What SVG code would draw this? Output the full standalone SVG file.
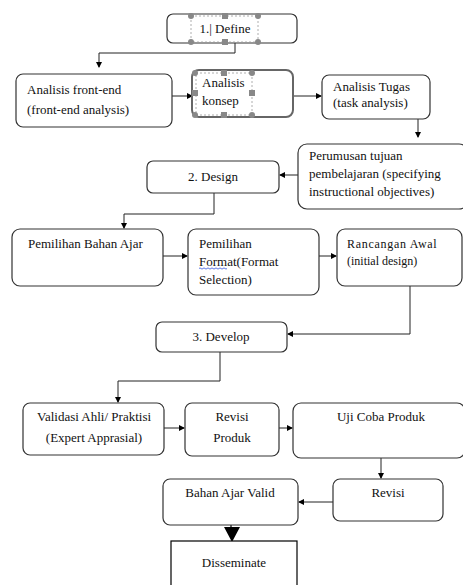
<svg xmlns="http://www.w3.org/2000/svg" width="463" height="585" viewBox="0 0 463 585">
<defs>
<marker id="ah" markerWidth="6" markerHeight="6" refX="5" refY="3" orient="auto" markerUnits="userSpaceOnUse">
<path d="M0,0 L6,3 L0,6 Z" fill="#000"/>
</marker>
<style>
.box{fill:#fff;stroke:#333;stroke-width:1.2}
.sq{fill:#fff;stroke:#000;stroke-width:1.2}
.sel{fill:none;stroke:#999;stroke-width:0.8;stroke-dasharray:2,2}
.hc{fill:#888}
text{font-family:"Liberation Serif","Times New Roman",serif;fill:#111}
.s13{font-size:13px}
.s12{font-size:12px}
.c{text-anchor:middle}
.ln{fill:none;stroke:#222;stroke-width:1}
</style>
</defs>
<rect width="463" height="585" fill="#fff"/>

<g id="connectors">
<polyline class="ln" points="235,43 235,53 99,53 99,67" marker-end="url(#ah)"/>
<line class="ln" x1="172" y1="96" x2="192" y2="96" marker-end="url(#ah)"/>
<line class="ln" x1="293" y1="96" x2="321" y2="96" marker-end="url(#ah)"/>
<line class="ln" x1="418" y1="119" x2="418" y2="137" marker-end="url(#ah)"/>
<line class="ln" x1="298" y1="175" x2="280" y2="175" marker-end="url(#ah)"/>
<polyline class="ln" points="214,193 214,214 124,214 124,228" marker-end="url(#ah)"/>
<line class="ln" x1="163" y1="256" x2="187" y2="256" marker-end="url(#ah)"/>
<line class="ln" x1="319" y1="256" x2="336" y2="256" marker-end="url(#ah)"/>
<polyline class="ln" points="410,286 410,334 288,334" marker-end="url(#ah)"/>
<polyline class="ln" points="220,352 220,381 118,381 118,402" marker-end="url(#ah)"/>
<line class="ln" x1="164" y1="428" x2="184" y2="428" marker-end="url(#ah)"/>
<line class="ln" x1="279" y1="428" x2="292" y2="428" marker-end="url(#ah)"/>
<line class="ln" x1="381" y1="458" x2="381" y2="478" marker-end="url(#ah)"/>
<line class="ln" x1="333" y1="502" x2="299" y2="502" marker-end="url(#ah)"/>
<line x1="231" y1="518" x2="231" y2="528" stroke="#000" stroke-width="1.2"/>
<polygon points="224,527 240,527 232,542" fill="#000"/>
</g>

<g id="define">
<rect class="box" x="167" y="14" width="130" height="29" rx="6"/>
<rect class="sel" x="191" y="16" width="67" height="26"/>
<circle class="hc" cx="191" cy="16" r="3"/><circle class="hc" cx="258" cy="16" r="3"/>
<circle class="hc" cx="191" cy="42" r="3"/><circle class="hc" cx="258" cy="42" r="3"/>
<rect class="hc" x="222" y="13" width="6" height="6"/><rect class="hc" x="222" y="39" width="6" height="6"/>
<text class="s13 c" x="225" y="33">1.| Define</text>
</g>

<g id="front-end">
<rect class="box" x="16" y="74" width="156" height="53" rx="7"/>
<text class="s13" x="27" y="94">Analisis front-end</text>
<text class="s13" x="27" y="114">(front-end analysis)</text>
</g>

<g id="konsep">
<rect x="192" y="70" width="101" height="47" rx="7" fill="#fff" stroke="#666" stroke-width="2"/>
<rect class="sel" x="196" y="73" width="56" height="42"/>
<circle class="hc" cx="195" cy="73" r="3"/><circle class="hc" cx="252" cy="73" r="3"/>
<circle class="hc" cx="195" cy="115" r="3"/><circle class="hc" cx="252" cy="115" r="3"/>
<rect class="hc" x="221" y="70" width="6" height="6"/><rect class="hc" x="221" y="112" width="6" height="6"/>
<rect class="hc" x="192" y="90" width="6" height="6"/><rect class="hc" x="249" y="90" width="6" height="6"/>
<text class="s13" x="202" y="87">Analisis</text>
<text class="s13" x="202" y="105">konsep</text>
</g>

<g id="tugas">
<rect class="box" x="322" y="75" width="108" height="44" rx="7"/>
<text class="s13" x="333" y="91">Analisis Tugas</text>
<text class="s13" x="333" y="107">(task analysis)</text>
</g>

<g id="perumusan">
<rect class="box" x="298" y="144" width="170" height="65" rx="9"/>
<text class="s13" x="309" y="160">Perumusan tujuan</text>
<text class="s13" x="309" y="178">pembelajaran (specifying</text>
<text class="s13" x="309" y="196">instructional  objectives)</text>
</g>

<g id="design">
<rect class="box" x="147" y="161" width="132" height="32" rx="6"/>
<text class="s13 c" x="213" y="181">2. Design</text>
</g>

<g id="bahan">
<rect class="box" x="12" y="229" width="151" height="57" rx="8"/>
<text class="s13" x="28" y="248">Pemilihan Bahan Ajar</text>
</g>

<g id="format">
<rect class="box" x="188" y="229" width="131" height="66" rx="8"/>
<text class="s13" x="199" y="248">Pemilihan</text>
<text class="s13" x="199" y="266">Format(Format</text>
<path d="M199,268.5 q1,-1.2 2,0 t2,0 t2,0 t2,0 t2,0 t2,0 t2,0 t2,0 t2,0 t2,0 t2,0 t2,0 t2,0 t2,0" fill="none" stroke="#3355dd" stroke-width="0.8"/>
<text class="s13" x="199" y="284">Selection)</text>
</g>

<g id="rancangan">
<rect class="box" x="337" y="229" width="125" height="57" rx="8"/>
<text class="s12" x="347" y="248" letter-spacing="0.7">Rancangan Awal</text>
<text class="s12" x="347" y="265">(initial design)</text>
</g>

<g id="develop">
<rect class="box" x="156" y="322" width="131" height="30" rx="6"/>
<text class="s13 c" x="221" y="341">3. Develop</text>
</g>

<g id="validasi">
<rect class="box" x="23" y="403" width="141" height="52" rx="7"/>
<text class="s13 c" x="94" y="421">Validasi Ahli/ Praktisi</text>
<text class="s13 c" x="94" y="442">(Expert Apprasial)</text>
</g>

<g id="revisi-produk">
<rect class="box" x="185" y="403" width="94" height="53" rx="7"/>
<text class="s13 c" x="232" y="421">Revisi</text>
<text class="s13 c" x="232" y="442">Produk</text>
</g>

<g id="uji">
<rect class="box" x="293" y="403" width="172" height="55" rx="8"/>
<text class="s13 c" x="381" y="421">Uji Coba Produk</text>
</g>

<g id="revisi">
<rect class="box" x="333" y="479" width="110" height="42" rx="7"/>
<text class="s13 c" x="388" y="497">Revisi</text>
</g>

<g id="valid">
<rect class="box" x="163" y="479" width="135" height="46" rx="7"/>
<text class="s13 c" x="230" y="497">Bahan Ajar Valid</text>
</g>

<g id="disseminate">
<rect class="sq" x="171" y="541" width="126" height="50"/>
<text class="s13 c" x="234" y="567">Disseminate</text>
</g>
</svg>
